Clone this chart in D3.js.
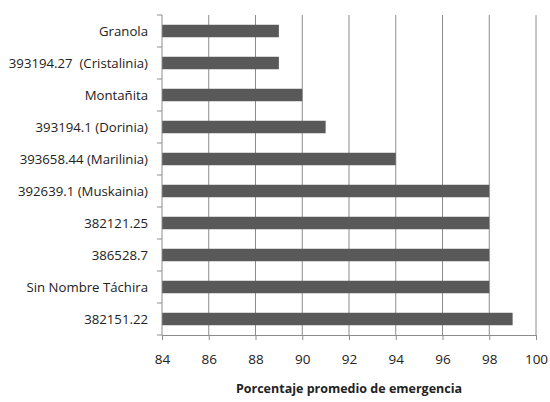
<html>
<head>
<meta charset="utf-8">
<script src="https://d3js.org/d3.v7.min.js" charset="utf-8"></script>
<style>
  body { margin: 0; background: #fff; }
  text { font-family: "Open Sans", "Noto Sans", sans-serif; fill: #222; }
</style>
</head>
<body>
<script>
var categories = ["Granola", "393194.27  (Cristalinia)", "Montañita", "393194.1 (Dorinia)",
  "393658.44 (Marilinia)", "392639.1 (Muskainia)", "382121.25", "386528.7",
  "Sin Nombre Táchira", "382151.22"]
var values = [89, 89, 90, 91, 94, 98, 98, 98, 98, 99]
var xTicks = [84, 86, 88, 90, 92, 94, 96, 98, 100]
var axisTitle = "Porcentaje promedio de emergencia"

var width = 550, height = 402
var margin = { top: 15, right: 14, bottom: 67, left: 162 }
var w = width - margin.left - margin.right
var h = height - margin.top - margin.bottom

var svg = d3.select("body").append("svg")
  .attr("width", width).attr("height", height)
var g = svg.append("g").attr("transform", "translate(" + margin.left + "," + margin.top + ")")

var x = d3.scaleLinear().domain([84, 100]).range([0, w])
var y = d3.scaleBand().domain(categories).range([0, h]).paddingInner(0.61).paddingOuter(0.305)

// grid lines
g.selectAll(".grid").data(xTicks.slice(1)).enter().append("line")
  .attr("x1", function (d) { return x(d) }).attr("x2", function (d) { return x(d) })
  .attr("y1", 0).attr("y2", h)
  .attr("stroke", "#8c8c8c").attr("stroke-width", 1)

// bars
g.selectAll("rect").data(values).enter().append("rect")
  .attr("x", x(84))
  .attr("y", function (d, i) { return y(categories[i]) })
  .attr("width", function (d) { return x(d) - x(84) })
  .attr("height", y.bandwidth())
  .attr("fill", "#595959")

// left axis with ticks at band boundaries
g.append("line").attr("x1", 0).attr("x2", 0).attr("y1", 0).attr("y2", h)
  .attr("stroke", "#8c8c8c")
var step = h / categories.length
g.selectAll(".ytick").data(d3.range(categories.length + 1)).enter().append("line")
  .attr("x1", -5).attr("x2", 0)
  .attr("y1", function (d) { return d * step }).attr("y2", function (d) { return d * step })
  .attr("stroke", "#8c8c8c")
g.selectAll(".ylab").data(categories).enter().append("text")
  .attr("x", -14)
  .attr("y", function (d) { return y(d) + y.bandwidth() / 2 })
  .attr("dy", "0.35em")
  .attr("text-anchor", "end")
  .attr("font-size", "13.2px")
  .style("white-space", "pre")
  .text(function (d) { return d })

// bottom axis
var xAxis = g.append("g").attr("transform", "translate(0," + h + ")")
  .call(d3.axisBottom(x).tickValues(xTicks).tickSize(5).tickPadding(14))
xAxis.select(".domain").attr("stroke", "#8c8c8c")
xAxis.selectAll(".tick line").attr("stroke", "#8c8c8c")
xAxis.selectAll("text").attr("font-size", "13.5px").attr("fill", "#222")
  .style("font-family", '"Open Sans", sans-serif')

svg.append("text")
  .attr("x", margin.left + w / 2).attr("y", 393)
  .attr("text-anchor", "middle")
  .attr("font-size", "12.5px").attr("font-weight", "bold")
  .text(axisTitle)
</script>
</body>
</html>
